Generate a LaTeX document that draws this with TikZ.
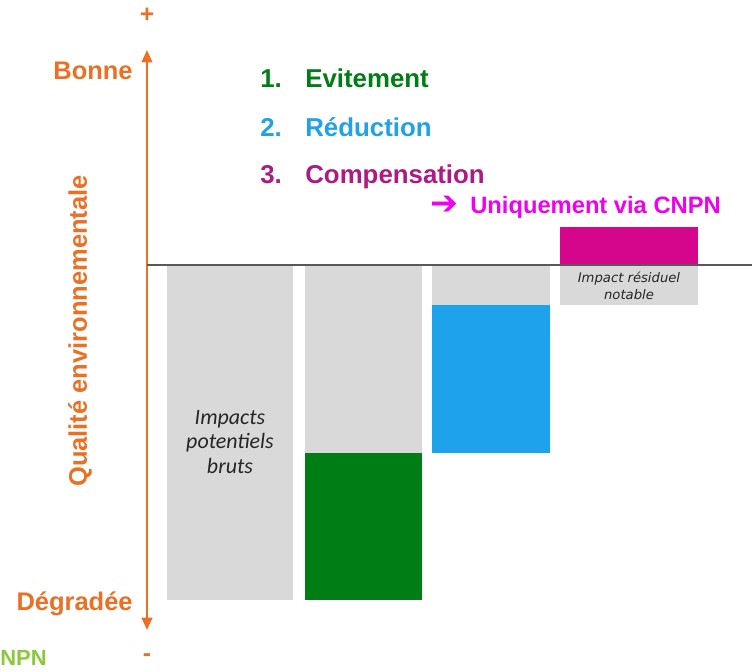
\documentclass[tikz,border=0pt]{standalone}
\usepackage{fontspec}
\setmainfont{Liberation Sans}
\newfontfamily\boxfont{Carlito}
\newfontfamily\notefont{DejaVu Sans}
\newfontfamily\symfont{DejaVu Sans}
\definecolor{axisorange}{RGB}{235,112,36}
\definecolor{evgreen}{RGB}{0,125,20}
\definecolor{redblue}{RGB}{30,162,234}
\definecolor{compmagenta}{RGB}{214,6,140}
\definecolor{comptext}{RGB}{175,25,130}
\definecolor{cnpnpink}{RGB}{240,0,240}
\definecolor{npngreen}{RGB}{140,200,60}
\definecolor{bargray}{RGB}{217,217,217}
\usetikzlibrary{arrows.meta, positioning}

\tikzset{
  legendtxt/.style={anchor=base west, inner sep=0pt, font=\fontsize{14.7}{17}\selectfont\bfseries},
  axislabel/.style={anchor=base east, inner sep=0pt, text=axisorange, font=\fontsize{14.5}{17}\selectfont\bfseries},
  barlabel/.style={align=center, inner sep=0pt, text=black!85},
}

\begin{document}
\begin{tikzpicture}[x=0.02cm, y=-0.02cm]
  \useasboundingbox (0,0) rectangle (752,672);

  % Axis
  \coordinate (axtop) at (147,50);
  \coordinate (axbot) at (147,630);
  \draw[axisorange, line width=1.2pt, {Triangle[length=7pt,width=6pt]}-{Triangle[length=7pt,width=6pt]}] (axbot) -- (axtop);
  \node[text=axisorange, font=\fontsize{14}{16}\selectfont\bfseries] (plus) at (147,15) {+};
  \node[text=axisorange, font=\fontsize{14}{16}\selectfont\bfseries] (minus) at (147,658) {-};
  \node[axislabel] (bonne) at (133,80) {Bonne};
  \node[axislabel] (degradee) at (133,611) {Dégradée};
  \node[rotate=90, text=axisorange, font=\fontsize{14.5}{17}\selectfont\bfseries] (qualite) at (80,331) {Qualité environnementale};
  \node[anchor=base west, inner sep=0pt, text=npngreen, font=\fontsize{12.5}{14}\selectfont\bfseries] (npn) at (0,666) {NPN};

  % Bars
  \fill[bargray] (167,265) rectangle (293,600);
  \fill[bargray] (305,265) rectangle (422,453);
  \fill[evgreen] (305,453) rectangle (422,600);
  \fill[bargray] (432,265) rectangle (550,305);
  \fill[redblue] (432,305) rectangle (550,453);
  \fill[bargray] (560,265) rectangle (698,305);
  \fill[compmagenta] (560,227) rectangle (698,265);

  % Baseline
  \coordinate (zeroleft) at (147,265);
  \coordinate (zeroright) at (752,265);
  \draw[black!65, line width=0.9pt] (zeroleft) -- (zeroright);

  \node[barlabel, font=\fontsize{12.5}{14}\selectfont\boxfont\itshape] (bruts) at (230,442) {Impacts\\potentiels\\bruts};
  \node[barlabel, font=\fontsize{7.5}{10}\selectfont\notefont\itshape] (residuel) at (629,286) {Impact résiduel\\notable};

  % Legend
  \node[legendtxt, text=evgreen] (n1) at (260,88) {1.};
  \node[legendtxt, text=evgreen] (evitement) at (305,88) {Evitement};
  \node[legendtxt, text=redblue] (n2) at (260,137) {2.};
  \node[legendtxt, text=redblue] (reduction) at (305,137) {Réduction};
  \node[legendtxt, text=comptext] (n3) at (260,184) {3.};
  \node[legendtxt, text=comptext] (compensation) at (305,184) {Compensation};

  \node[anchor=base west, inner sep=0pt, text=cnpnpink, font=\fontsize{19}{20}\selectfont\symfont] (cnpnarrow) at (430,215) {➔};
  \node[anchor=base west, inner sep=0pt, text=cnpnpink, font=\fontsize{13.5}{16}\selectfont\bfseries] (cnpn) at (470,214) {Uniquement via CNPN};
\end{tikzpicture}
\end{document}
